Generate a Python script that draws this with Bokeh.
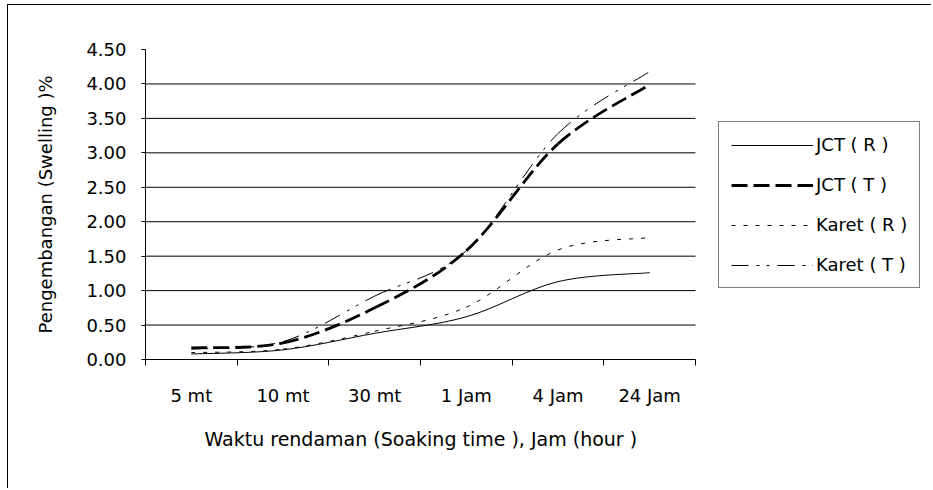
from bokeh.plotting import figure
from bokeh.models import (Range1d, FixedTicker, NumeralTickFormatter, Legend,
                          LegendItem, ColumnDataSource, Title)
from bokeh.embed import file_html
from bokeh.resources import INLINE

# ---- data ----
categories = ["5 mt", "10 mt", "30 mt", "1 Jam", "4 Jam", "24 Jam"]
jct_r = [0.08, 0.14, 0.38, 0.62, 1.13, 1.26]
jct_t = [0.17, 0.24, 0.75, 1.58, 3.13, 3.99]
karet_r = [0.10, 0.15, 0.41, 0.76, 1.59, 1.77]
karet_t = [0.15, 0.26, 0.92, 1.58, 3.28, 4.18]
y_ticks = [0.0, 0.5, 1.0, 1.5, 2.0, 2.5, 3.0, 3.5, 4.0, 4.5]
series_names = ["JCT ( R )", "JCT ( T )", "Karet ( R )", "Karet ( T )"]
x_title = "Waktu rendaman (Soaking time ), Jam (hour )"
y_title = "Pengembangan (Swelling )%"

FONT = "DejaVu Sans"
FS = "18px"

# layout (pixels)
W, H = 924, 484
LEFT, TOP, BOTTOM = 137, 44, 130
PLOT_W = 550                      # width of the category axis
FRAME_W = W - LEFT                # frame runs to the right edge (legend lives there)
X_TITLE_OFFSET = 59               # left edge of the x title, from the axis start

ncat = len(categories)
xs = [i + 0.5 for i in range(ncat)]
x_end = ncat * FRAME_W / PLOT_W


def smooth_source(x, y):
    """Bezier segments (Catmull-Rom style, like a spreadsheet 'smoothed line')."""
    n = len(x)
    d = dict(x0=[], y0=[], x1=[], y1=[], cx0=[], cy0=[], cx1=[], cy1=[])
    for i in range(n - 1):
        im = max(i - 1, 0)
        ip2 = min(i + 2, n - 1)
        d["x0"].append(x[i]); d["y0"].append(y[i])
        d["x1"].append(x[i + 1]); d["y1"].append(y[i + 1])
        d["cx0"].append(x[i] + (x[i + 1] - x[im]) / 6.0)
        d["cy0"].append(y[i] + (y[i + 1] - y[im]) / 6.0)
        d["cx1"].append(x[i + 1] - (x[ip2] - x[i]) / 6.0)
        d["cy1"].append(y[i + 1] - (y[ip2] - y[i]) / 6.0)
    return ColumnDataSource(d)


p = figure(width=W, height=H, output_backend="svg", toolbar_location=None,
           x_range=Range1d(0, x_end), y_range=Range1d(y_ticks[0], y_ticks[-1]),
           min_border_left=LEFT, min_border_right=0,
           min_border_top=TOP, min_border_bottom=BOTTOM)
p.styles = {"border-left": "1px solid #000", "border-top": "1px solid #000",
            "margin-left": "7px", "margin-top": "4px"}
p.outline_line_color = None
p.background_fill_color = "white"
p.border_fill_color = "white"

# x axis: labels at category centres, tick marks at category boundaries
p.xaxis.bounds = (0, ncat)
p.xaxis.ticker = FixedTicker(ticks=xs, minor_ticks=list(range(ncat + 1)))
p.xaxis.major_label_overrides = {x: c for x, c in zip(xs, categories)}
p.xaxis.major_tick_out = 0
p.xaxis.major_tick_in = 0
p.xaxis.minor_tick_out = 6
p.xaxis.minor_tick_in = 0
p.xaxis.minor_tick_line_color = "black"
p.xaxis.major_label_standoff = 19

# x-axis title under the category area
xt = Title(text=x_title, align="left", offset=X_TITLE_OFFSET,
           standoff=34, text_font=FONT, text_font_size="19px",
           text_font_style="normal", text_color="black")
p.add_layout(xt, "below")

# y axis
p.yaxis.ticker = FixedTicker(ticks=y_ticks)
p.yaxis.formatter = NumeralTickFormatter(format="0.00")
p.yaxis.major_tick_out = 4
p.yaxis.major_tick_in = 0
p.yaxis.minor_tick_out = 0
p.yaxis.major_label_standoff = 15
p.yaxis.axis_label = y_title
p.yaxis.axis_label_standoff = 27

for ax in (p.xaxis, p.yaxis):
    ax.axis_line_color = "black"
    ax.axis_line_width = 1
    ax.major_tick_line_color = "black"
    ax.major_label_text_font = FONT
    ax.major_label_text_font_size = FS
    ax.major_label_text_color = "black"
    ax.axis_label_text_font = FONT
    ax.axis_label_text_font_size = FS
    ax.axis_label_text_font_style = "normal"
    ax.axis_label_text_color = "black"

p.xgrid.visible = False
p.ygrid.visible = False
# horizontal gridlines over the category area only
grid_vals = y_ticks[1:-1]
p.segment(x0=[0] * len(grid_vals), x1=[ncat] * len(grid_vals),
          y0=grid_vals, y1=grid_vals, line_color="black", line_width=1)

styles = [
    dict(line_width=1, line_dash="solid"),
    dict(line_width=2.8, line_dash="16 6"),
    dict(line_width=1, line_dash="4 8"),
    dict(line_width=1, line_dash="17 8 3 7 3 8"),
]
items = []
for name, ys, st in zip(series_names, [jct_r, jct_t, karet_r, karet_t], styles):
    r = p.bezier(x0="x0", y0="y0", x1="x1", y1="y1", cx0="cx0", cy0="cy0",
                 cx1="cx1", cy1="cy1", source=smooth_source(xs, ys),
                 line_color="black", **st)
    items.append(LegendItem(label=name, renderers=[r]))

legend = Legend(items=items, location=(573, 71))
legend.border_line_color = "black"
legend.border_line_width = 1
legend.background_fill_color = "white"
legend.background_fill_alpha = 1
legend.label_text_font = FONT
legend.label_text_font_size = FS
legend.label_text_color = "black"
legend.glyph_width = 82
legend.glyph_height = 20
legend.label_standoff = 3
legend.padding = 12
legend.spacing = 19
legend.margin = 0
p.add_layout(legend, "center")

open("out.html", "w").write(file_html(p, INLINE))
